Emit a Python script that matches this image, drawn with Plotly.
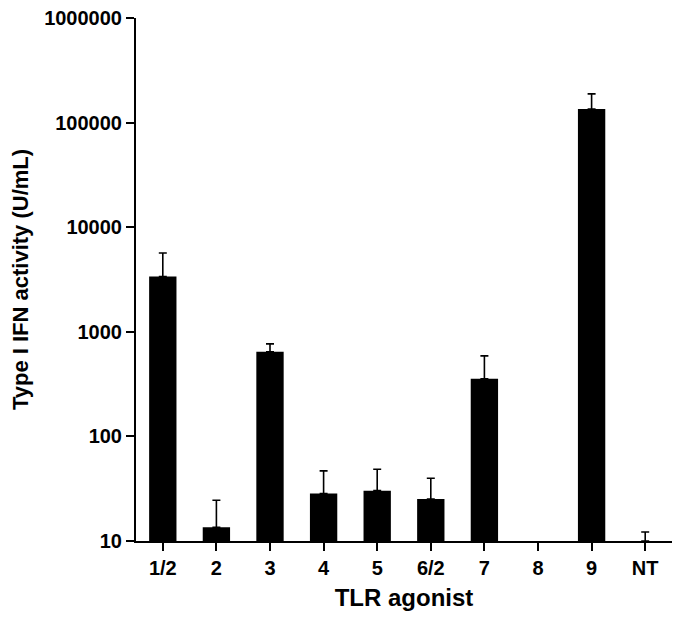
import plotly.graph_objects as go

# TLR agonist stimulation -> type I IFN activity
agonists = ['1/2', '2', '3', '4', '5', '6/2', '7', '8', '9', 'NT']
ifn_mean = [3380, 13.5, 645, 28.4, 30.3, 25.2, 355, None, 135000, 10]
ifn_err_up = [2280, 11, 122, 18.4, 18.2, 14.6, 234, None, 53000, 2.2]
ifn_err_down = [0, 0, 0, 0, 0, 0, 0, None, 0, 0]
y_ticks = [10, 100, 1000, 10000, 100000, 1000000]

font = 'Arial, Liberation Sans, sans-serif'

fig = go.Figure()
fig.add_trace(go.Bar(
    x=agonists,
    y=ifn_mean,
    marker=dict(color='black', line=dict(width=0)),
    error_y=dict(type='data', symmetric=False, array=ifn_err_up,
                 arrayminus=ifn_err_down, color='black',
                 thickness=1.6, width=4),
    width=0.51,
))

# page body adds an 8px offset, so margins are shifted accordingly
fig.update_layout(
    width=683, height=622,
    margin=dict(l=128, r=19, t=10, b=89),
    plot_bgcolor='white', paper_bgcolor='white',
    showlegend=False,
    font=dict(family=font, color='black'),
)
fig.update_xaxes(
    range=[-0.5, 9.5], automargin=False,
    showline=True, linecolor='black', linewidth=2,
    ticks='outside', ticklen=8, tickwidth=2, tickcolor='black',
    tickfont=dict(size=20, family=font, weight='bold'),
    showgrid=False, zeroline=False,
    title=dict(text='<b>TLR agonist</b>', font=dict(size=24), standoff=11),
)
fig.update_yaxes(
    type='log', range=[1, 6], automargin=False,
    tickvals=y_ticks, tickformat='d', ticklabeloverflow='allow',
    showline=True, linecolor='black', linewidth=2,
    ticks='outside', ticklen=8, tickwidth=2, tickcolor='black',
    tickfont=dict(size=20, family=font, weight='bold'),
    showgrid=False, zeroline=False,
    title=dict(text='<b>Type I IFN activity (U/mL)</b>', font=dict(size=22), standoff=12),
)

fig.write_html("out.html")
